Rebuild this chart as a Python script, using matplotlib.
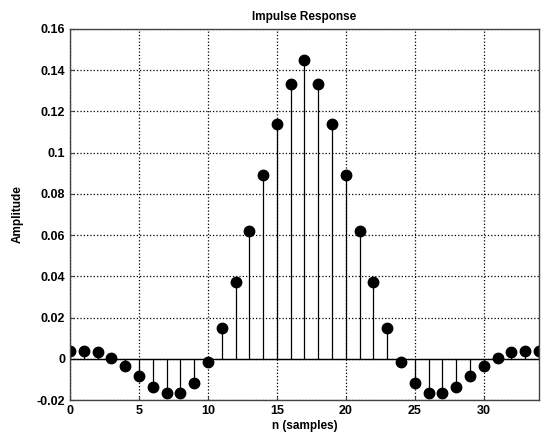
import numpy as np
from matplotlib import pyplot as plt

# impulse response samples (symmetric about n=17)
n = np.arange(35)
h = [0.0040, 0.0040, 0.0032, 0.0006, -0.0035, -0.0082, -0.0135, -0.0166, -0.0166,
     -0.0118, -0.0014, 0.0147, 0.0370, 0.0620, 0.0892, 0.1138, 0.1332, 0.1447,
     0.1332, 0.1138, 0.0892, 0.0620, 0.0370, 0.0147, -0.0014, -0.0118, -0.0166,
     -0.0166, -0.0135, -0.0082, -0.0035, 0.0006, 0.0032, 0.0040, 0.0040]

x_ticks = [0, 5, 10, 15, 20, 25, 30]
y_ticks = [-0.02, 0, 0.02, 0.04, 0.06, 0.08, 0.1, 0.12, 0.14, 0.16]
y_labels = ['-0.02', '0', '0.02', '0.04', '0.06', '0.08', '0.1', '0.12', '0.14', '0.16']

plt.rcParams['font.family'] = ['Liberation Sans', 'DejaVu Sans']
plt.rcParams['font.weight'] = 'bold'

fig = plt.figure(figsize=(5.44, 4.43), dpi=100)
ax = fig.add_axes([0.1287, 0.097, 0.862, 0.838])

markerline, stemlines, baseline = ax.stem(n, h, linefmt='k-', markerfmt='ko', basefmt='k-')
markerline.set_markersize(7.5)
stemlines.set_linewidth(0.9)
baseline.set_linewidth(1.0)
baseline.set_xdata([0, 34])

ax.set_xlim(0, 34)
ax.set_ylim(-0.02, 0.16)
ax.set_xticks(x_ticks)
ax.set_yticks(y_ticks)
ax.set_yticklabels(y_labels)
ax.grid(True, color='k', linestyle=':', linewidth=0.9)
ax.set_axisbelow(True)

ax.tick_params(direction='in', labelsize=9, length=3, color='#444444')
for s in ax.spines.values():
    s.set_color('#444444')
    s.set_linewidth(1.0)

ax.set_title('Impulse Response', fontsize=8.5, fontweight='bold', pad=6)
ax.set_xlabel('n (samples)', fontsize=8.5, fontweight='bold', labelpad=2)
ax.set_ylabel('Amplitude', fontsize=8.5, fontweight='bold', labelpad=9)

plt.savefig('out.png', dpi=100)
plt.close()
